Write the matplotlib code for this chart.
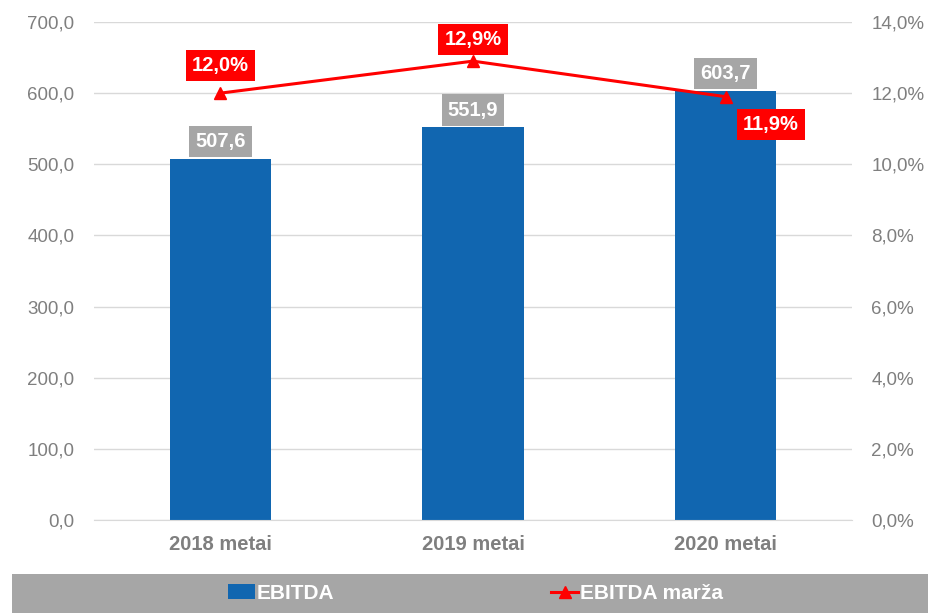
import matplotlib.pyplot as plt
from matplotlib.patches import Rectangle, Patch
from matplotlib.lines import Line2D
from matplotlib.ticker import FuncFormatter

plt.rcParams['font.family'] = ['Liberation Sans', 'DejaVu Sans']

categories = ["2018 metai", "2019 metai", "2020 metai"]
ebitda = [507.6, 551.9, 603.7]
margin = [12.0, 12.9, 11.9]
# label offsets (px) for the margin labels
margin_offsets = [(0, 28), (0, 22), (45, -28)]

blue = "#1166b0"
grey_txt = "#7f7f7f"
box_grey = "#a6a6a6"

fig = plt.figure(figsize=(9.29, 6.13), dpi=100)
ax = fig.add_axes([94 / 929, 93 / 613, 758 / 929, 498 / 613])
ax2 = ax.twinx()

x = range(len(categories))
ax.bar(x, ebitda, width=0.4, color=blue, zorder=2)
ax.set_xlim(-0.5, 2.5)
ax.set_ylim(0, 700)
ax.set_yticks(range(0, 701, 100))
ax.yaxis.set_major_formatter(FuncFormatter(lambda v, p: f"{v:.1f}".replace(".", ",")))
ax.grid(axis="y", color="#d9d9d9", linewidth=1, zorder=0)
ax.set_axisbelow(True)
ax.set_xticks(list(x))
ax.set_xticklabels(categories, fontweight="bold", color=grey_txt)

ax2.set_ylim(0, 14)
ax2.set_yticks(range(0, 15, 2))
ax2.yaxis.set_major_formatter(FuncFormatter(lambda v, p: f"{v:.1f}%".replace(".", ",")))
ax2.plot(list(x), margin, color="red", linewidth=2.2, marker="^", markersize=8, zorder=3)

for a in (ax, ax2):
    for s in a.spines.values():
        s.set_visible(False)
    a.tick_params(length=0, labelsize=13.5, labelcolor=grey_txt)
ax.tick_params(axis="x", pad=11, labelsize=14.5)
ax.tick_params(axis="y", pad=14)
ax2.tick_params(axis="y", pad=14)
ax.spines["bottom"].set_visible(True)
ax.spines["bottom"].set_color("#d9d9d9")

for i, v in enumerate(ebitda):
    ax.annotate(f"{v:.1f}".replace(".", ","), (i, v), xytext=(0, 12.5), textcoords="offset points",
                ha="center", va="center", color="white", fontsize=14.5, fontweight="bold",
                bbox=dict(boxstyle="square,pad=0.3", fc=box_grey, ec="none"), zorder=5)

for i, v in enumerate(margin):
    dx, dy = margin_offsets[i]
    ax2.annotate(f"{v:.1f}%".replace(".", ","), (i, v), xytext=(dx * 0.72, dy * 0.72),
                 textcoords="offset points", ha="center", va="center", color="white",
                 fontsize=14.5, fontweight="bold",
                 bbox=dict(boxstyle="square,pad=0.3", fc="red", ec="none"), zorder=5)

# legend band
fig.patches.append(Rectangle((12 / 929, 0), 1 - 12 / 929, 39 / 613, transform=fig.transFigure,
                             fc=box_grey, ec="none", zorder=0))
handles = [Patch(fc=blue, ec="none"),
           Line2D([], [], color="red", linewidth=2.2, marker="^", markersize=8)]
leg = fig.legend(handles, ["EBITDA", "EBITDA marža"], loc="center", bbox_to_anchor=(475.5 / 929, 19.5 / 613),
                 ncol=2, frameon=False, handlelength=1.3, handletextpad=0.1, columnspacing=10.4,
                 prop=dict(size=15, weight="bold"))
for t in leg.get_texts():
    t.set_color("white")

fig.savefig("out.png", dpi=100)
